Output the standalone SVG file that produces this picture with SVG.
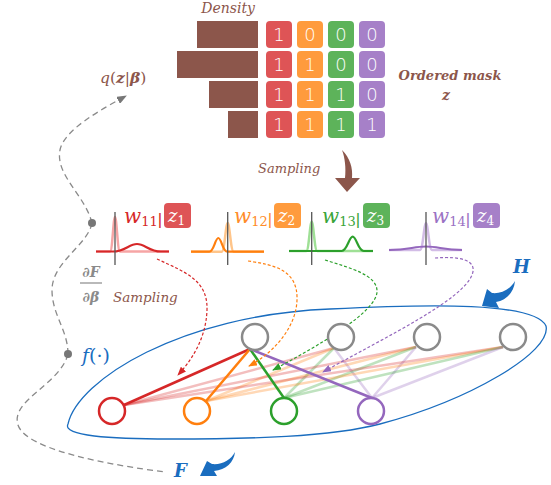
<svg xmlns="http://www.w3.org/2000/svg" width="551" height="485" viewBox="0 0 551 485">
<style>
.bar{fill:#8c564b}
.dig{font-family:"DejaVu Sans","Liberation Sans",sans-serif;font-size:18px;fill:#fff;text-anchor:middle;font-weight:300}
.brown{fill:#8c564b;font-family:"DejaVu Serif","Liberation Serif",serif;font-style:italic}
.math{font-family:"DejaVu Serif","Liberation Serif",serif;font-style:italic}
.ser{font-family:"DejaVu Serif","Liberation Serif",serif}
.axis{stroke:#555;stroke-width:1.3;fill:none}
.top{fill:#fff;stroke:#8a8a8a;stroke-width:2.5}
.bot{fill:#fff;stroke-width:2.5}
.gd{fill:none;stroke:#8a8a8a;stroke-width:1.3;stroke-dasharray:6,4}
.sd{fill:none;stroke-width:1.2;stroke-dasharray:3,2}
.lt{stroke-width:2.5;stroke-opacity:0.3}
.so{stroke-width:2.5}
.blue{fill:#1a6dbf}
</style>
<defs>
<marker id="mq" markerUnits="userSpaceOnUse" markerWidth="10" markerHeight="8" refX="9" refY="4" orient="auto"><path d="M0,0 L10,4 L0,8 z" fill="#777"/></marker>
<marker id="mr" markerUnits="userSpaceOnUse" markerWidth="9" markerHeight="7" refX="8" refY="3.5" orient="auto"><path d="M0,0 L9,3.5 L0,7 z" fill="#d62728"/></marker>
<marker id="mo" markerUnits="userSpaceOnUse" markerWidth="9" markerHeight="7" refX="8" refY="3.5" orient="auto"><path d="M0,0 L9,3.5 L0,7 z" fill="#ff7f0e"/></marker>
<marker id="mg" markerUnits="userSpaceOnUse" markerWidth="9" markerHeight="7" refX="8" refY="3.5" orient="auto"><path d="M0,0 L9,3.5 L0,7 z" fill="#2ca02c"/></marker>
<marker id="mp" markerUnits="userSpaceOnUse" markerWidth="9" markerHeight="7" refX="8" refY="3.5" orient="auto"><path d="M0,0 L9,3.5 L0,7 z" fill="#9467bd"/></marker>
</defs>

<g id="density">
<text class="brown" x="255" y="13" font-size="14" text-anchor="end">Density</text>
<rect class="bar" x="197" y="21" width="61" height="27"/>
<rect class="bar" x="177" y="51" width="81" height="27"/>
<rect class="bar" x="209" y="81" width="49" height="27"/>
<rect class="bar" x="228" y="111" width="30" height="27"/>
</g>
<g id="mask">
<g fill="#de5456">
<rect x="266" y="21" width="26" height="27" rx="4"/><rect x="266" y="51" width="26" height="27" rx="4"/><rect x="266" y="81" width="26" height="27" rx="4"/><rect x="266" y="111" width="26" height="27" rx="4"/>
</g>
<g fill="#ff9b3d">
<rect x="297" y="21" width="26" height="27" rx="4"/><rect x="297" y="51" width="26" height="27" rx="4"/><rect x="297" y="81" width="26" height="27" rx="4"/><rect x="297" y="111" width="26" height="27" rx="4"/>
</g>
<g fill="#5db35a">
<rect x="328" y="21" width="26" height="27" rx="4"/><rect x="328" y="51" width="26" height="27" rx="4"/><rect x="328" y="81" width="26" height="27" rx="4"/><rect x="328" y="111" width="26" height="27" rx="4"/>
</g>
<g fill="#a680c8">
<rect x="359" y="21" width="26" height="27" rx="4"/><rect x="359" y="51" width="26" height="27" rx="4"/><rect x="359" y="81" width="26" height="27" rx="4"/><rect x="359" y="111" width="26" height="27" rx="4"/>
</g>
<text class="dig" x="279" y="41">1</text><text class="dig" x="310" y="41">0</text><text class="dig" x="341" y="41">0</text><text class="dig" x="372" y="41">0</text>
<text class="dig" x="279" y="71">1</text><text class="dig" x="310" y="71">1</text><text class="dig" x="341" y="71">0</text><text class="dig" x="372" y="71">0</text>
<text class="dig" x="279" y="101">1</text><text class="dig" x="310" y="101">1</text><text class="dig" x="341" y="101">1</text><text class="dig" x="372" y="101">0</text>
<text class="dig" x="279" y="131">1</text><text class="dig" x="310" y="131">1</text><text class="dig" x="341" y="131">1</text><text class="dig" x="372" y="131">1</text>
<text class="brown" x="450" y="80" font-size="13" font-weight="bold" text-anchor="middle">Ordered mask</text>
<text class="brown" x="446" y="100" font-size="14" font-weight="bold" text-anchor="middle">z</text>
</g>

<g id="sampling-top">
<text class="brown" x="258" y="173" font-size="13">Sampling</text>
<path d="M342,150 C350,158 353,168 352,178 L360,178 L347,192 L335,178 L345,178 C346,168 345,158 342,150 Z" fill="#8c564b"/>
</g>

<g id="gradient">
<path class="gd" d="M92,223 C85,195 55,175 60,150 C64,130 100,110 126,96" marker-end="url(#mq)"/>
<path class="gd" d="M92,223 C88,245 52,262 52,290 C52,315 68,330 68,354"/>
<path class="gd" d="M68,354 C60,385 10,400 18,425 C26,450 110,465 165,472"/>
<circle cx="92" cy="223" r="4" fill="#777"/>
<circle cx="68" cy="354" r="4" fill="#777"/>
<text class="ser" x="100" y="83" font-size="15.5" fill="#8c564b"><tspan font-style="italic">q</tspan>(<tspan font-weight="bold" font-style="italic">z</tspan>|<tspan font-weight="bold" font-style="italic">β</tspan>)</text>
<text class="ser" x="91" y="277" font-size="14" fill="#8a8a8a" font-weight="bold" text-anchor="middle">∂<tspan font-style="italic">F</tspan></text>
<line x1="80" y1="283" x2="102" y2="283" stroke="#8a8a8a" stroke-width="1.2"/>
<text class="ser" x="91" y="302" font-size="14" fill="#8a8a8a" font-weight="bold" text-anchor="middle">∂<tspan font-style="italic">β</tspan></text>
<text class="ser" x="82" y="362" font-size="19" fill="#1a6dbf"><tspan font-style="italic">f</tspan>(·)</text>
<text class="brown" x="113" y="302" font-size="13.5">Sampling</text>
</g>

<g id="w11">
<path d="M96,251.5 H110 C112.5,251.5 113.3,217 115,217 S117.5,251.5 120,251.5 H169" fill="none" stroke="#f6a5a5" stroke-width="2.5"/>
<path d="M96,251.5 H113 C125,251.5 129,244 137,244 S149,251.5 161,251.5 H169" fill="none" stroke="#d62728" stroke-width="2.2"/>
<line class="axis" x1="115" y1="212" x2="115" y2="265"/>
<text class="math" x="124" y="223" font-size="20" fill="#d62728">w<tspan dy="3" font-size="13" font-style="normal">11</tspan></text>
<text x="160" y="225" font-size="17" fill="#d62728" font-family="Liberation Sans,sans-serif" text-anchor="middle">|</text>
<rect x="164" y="203" width="27" height="25" rx="4" fill="#de5456"/>
<text class="math" x="168" y="222" font-size="18" fill="#fff">z<tspan dy="3" font-size="12" font-style="normal">1</tspan></text>
</g>
<g id="w12">
<path d="M191,251.7 H221.7 C224.7,251.7 225.7,223 227.7,223 S230.7,251.7 233.7,251.7 H264" fill="none" stroke="#ffc58a" stroke-width="2.5"/>
<path d="M191,251.7 H209.3 C213.8,251.7 215.3,238 218.3,238 S222.8,251.7 227.3,251.7 H264" fill="none" stroke="#ff7f0e" stroke-width="2.2"/>
<line class="axis" x1="227.7" y1="212" x2="227.7" y2="265"/>
<text class="math" x="234" y="223" font-size="20" fill="#ff8c2a">w<tspan dy="3" font-size="13" font-style="normal">12</tspan></text>
<text x="270" y="225" font-size="17" fill="#ff8c2a" font-family="Liberation Sans,sans-serif" text-anchor="middle">|</text>
<rect x="274" y="203" width="27" height="25" rx="4" fill="#ff9b3d"/>
<text class="math" x="278" y="222" font-size="18" fill="#fff">z<tspan dy="3" font-size="12" font-style="normal">2</tspan></text>
</g>
<g id="w13">
<path d="M289,251 H306.2 C309,251 309.9,221.7 311.7,221.7 S314.5,251 317.2,251 H373" fill="none" stroke="#9fe096" stroke-width="2.5"/>
<path d="M289,251 H341.7 C347.2,251 349,236.7 352.7,236.7 S358.2,251 363.7,251 H373" fill="none" stroke="#2ca02c" stroke-width="2.2"/>
<line class="axis" x1="311.7" y1="212" x2="311.7" y2="265"/>
<text class="math" x="322" y="223" font-size="20" fill="#3aa53a">w<tspan dy="3" font-size="13" font-style="normal">13</tspan></text>
<text x="358" y="225" font-size="17" fill="#3aa53a" font-family="Liberation Sans,sans-serif" text-anchor="middle">|</text>
<rect x="363" y="203" width="27" height="25" rx="4" fill="#5db35a"/>
<text class="math" x="367" y="222" font-size="18" fill="#fff">z<tspan dy="3" font-size="12" font-style="normal">3</tspan></text>
</g>
<g id="w14">
<path d="M389,250 H420 C423,250 424,223.3 426,223.3 S429,250 432,250 H462" fill="none" stroke="#d2bce6" stroke-width="2.5"/>
<path d="M389,250 H390 C408,250 414,246.5 426,246.5 S444,250 462,250" fill="none" stroke="#9467bd" stroke-width="2.2"/>
<line class="axis" x1="426" y1="212" x2="426" y2="265"/>
<text class="math" x="432" y="223" font-size="20" fill="#9b72c4">w<tspan dy="3" font-size="13" font-style="normal">14</tspan></text>
<text x="468" y="225" font-size="17" fill="#9b72c4" font-family="Liberation Sans,sans-serif" text-anchor="middle">|</text>
<rect x="473" y="203" width="27" height="25" rx="4" fill="#a680c8"/>
<text class="math" x="477" y="222" font-size="18" fill="#fff">z<tspan dy="3" font-size="12" font-style="normal">4</tspan></text>
</g>

<g id="H-ellipse">
<path d="M68,424 C78,380 180,315 330,309 C430,304 535,302 546,326 C552,352 470,400 380,424 C330,437 250,439 170,439 C110,439 62,436 68,424 Z" fill="none" stroke="#1a6dbf" stroke-width="1.3"/>
</g>

<g id="connectors">
<g class="lt">
<line x1="334" y1="348" x2="124" y2="405" stroke="#d62728"/>
<line x1="334" y1="348" x2="206" y2="401" stroke="#ff7f0e"/>
<line x1="334" y1="348" x2="284" y2="398" stroke="#2ca02c"/>
<line x1="334" y1="348" x2="372" y2="398" stroke="#9467bd"/>
<line x1="416" y1="347" x2="124" y2="405" stroke="#d62728"/>
<line x1="416" y1="347" x2="206" y2="401" stroke="#ff7f0e"/>
<line x1="416" y1="347" x2="284" y2="398" stroke="#2ca02c"/>
<line x1="416" y1="347" x2="372" y2="398" stroke="#9467bd"/>
<line x1="503" y1="347" x2="124" y2="405" stroke="#d62728"/>
<line x1="503" y1="347" x2="206" y2="401" stroke="#ff7f0e"/>
<line x1="503" y1="347" x2="284" y2="398" stroke="#2ca02c"/>
<line x1="503" y1="347" x2="372" y2="398" stroke="#9467bd"/>
</g>
<g class="so">
<line x1="250" y1="349" x2="124" y2="405" stroke="#d62728"/>
<line x1="250" y1="349" x2="206" y2="401" stroke="#ff7f0e"/>
<line x1="250" y1="349" x2="284" y2="398" stroke="#2ca02c"/>
<line x1="250" y1="349" x2="372" y2="398" stroke="#9467bd"/>
</g>
<path class="sd" d="M157,259 C185,272 208,280 207,310 C206,340 190,362 178,375" stroke="#d62728" marker-end="url(#mr)"/>
<path class="sd" d="M248,261 C275,265 298,270 297,300 C296,330 270,355 249,366" stroke="#ff7f0e" marker-end="url(#mo)"/>
<path class="sd" d="M325,260 C350,268 378,275 377,292 C376,312 320,345 273,370" stroke="#2ca02c" marker-end="url(#mg)"/>
<path class="sd" d="M435,258 C460,256 478,260 472,275 C462,300 390,335 323,372" stroke="#9467bd" marker-end="url(#mp)"/>
</g>

<g id="h1"><circle class="top" cx="255" cy="337" r="13"/></g>
<g id="h2"><circle class="top" cx="341" cy="337" r="13"/></g>
<g id="h3"><circle class="top" cx="427" cy="337" r="13"/></g>
<g id="h4"><circle class="top" cx="513" cy="337" r="13"/></g>
<g id="o1"><circle class="bot" cx="112" cy="411" r="13" stroke="#d62728"/></g>
<g id="o2"><circle class="bot" cx="197" cy="411" r="13" stroke="#ff7f0e"/></g>
<g id="o3"><circle class="bot" cx="284" cy="411" r="13" stroke="#2ca02c"/></g>
<g id="o4"><circle class="bot" cx="371" cy="411" r="13" stroke="#9467bd"/></g>

<g id="H-label">
<text class="ser" x="513" y="273" font-size="18" font-weight="bold" font-style="italic" fill="#1a6dbf">H</text>
<path class="blue" d="M515,281 C510,290 500,294 492,293 L487,289 L482,306 L499,308 L496,302 C507,300 514,292 515,281 Z"/>
</g>
<g id="F-label">
<text class="ser" x="174" y="477" font-size="18" font-weight="bold" font-style="italic" fill="#1a6dbf">F</text>
<path class="blue" d="M235,452 C231,460 222,465 212,464 L207,461 L200,476 L217,476 L214,471 C226,470 234,462 235,452 Z"/>
</g>
</svg>
